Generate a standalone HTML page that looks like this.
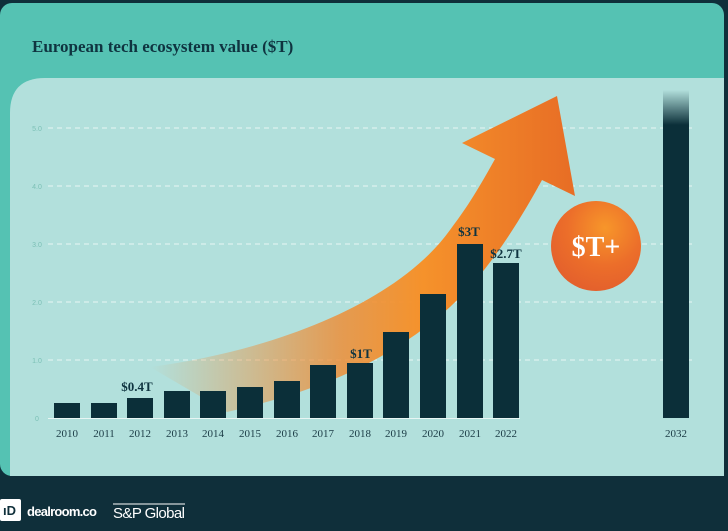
<!DOCTYPE html>
<html><head><meta charset="utf-8"><style>
body{margin:0;width:728px;height:531px;background:#0f2f3a;overflow:hidden;position:relative;font-family:"Liberation Serif",serif}
</style></head><body>
<svg width="728" height="531" style="position:absolute;left:0;top:0">
<defs>
<linearGradient id="ag" x1="150" y1="0" x2="570" y2="0" gradientUnits="userSpaceOnUse">
<stop offset="0" stop-color="#f08a30" stop-opacity="0"/>
<stop offset="0.45" stop-color="#f08a30" stop-opacity="0.8"/>
<stop offset="0.65" stop-color="#f5922b"/>
<stop offset="1" stop-color="#e86e25"/>
</linearGradient>
<radialGradient id="cg" cx="0.6" cy="0.3" r="0.7">
<stop offset="0" stop-color="#f7962a"/><stop offset="0.6" stop-color="#ec6e2a"/><stop offset="1" stop-color="#e4612c"/>
</radialGradient>
<linearGradient id="bg32" x1="0" y1="90" x2="0" y2="125" gradientUnits="userSpaceOnUse">
<stop offset="0" stop-color="#0b2f39" stop-opacity="0"/><stop offset="1" stop-color="#0b2f39"/>
</linearGradient>
</defs>
<rect x="0" y="3" width="724" height="473" rx="12" fill="#55c2b3"/>
<path d="M10 476 L10 113 Q10 78 45 78 L724 78 L724 476 Z" fill="#b2e0dc"/>
<text x="32" y="52" font-size="17" font-weight="bold" fill="#0f3440">European tech ecosystem value ($T)</text>
<g stroke="#e8f6f4" stroke-dasharray="5,4" stroke-width="1">
<line x1="48" y1="128" x2="695" y2="128"/><line x1="48" y1="186" x2="695" y2="186"/>
<line x1="48" y1="244" x2="695" y2="244"/><line x1="48" y1="302" x2="695" y2="302"/>
<line x1="48" y1="360" x2="695" y2="360"/>
</g>
<line x1="48" y1="418.5" x2="520" y2="418.5" stroke="#e8f6f4" stroke-width="1"/>
<g font-family="Liberation Sans,sans-serif" font-size="7" fill="#7cc0b6" text-anchor="middle">
<text x="37" y="131">5.0</text><text x="37" y="189">4.0</text><text x="37" y="247">3.0</text>
<text x="37" y="305">2.0</text><text x="37" y="363">1.0</text><text x="37" y="421">0</text>
</g>
<path d="M150 367 C280 350 400 300 450 230 C465 210 475 195 495 159 L462 143 L557 96 L575 196 L542 180 C520 220 490 270 450 307 C380 370 300 395 227 412 Z" fill="url(#ag)"/>
<g fill="#0b2f39">
<rect x="54" y="403" width="26" height="15"/><rect x="91" y="403" width="26" height="15"/>
<rect x="127" y="398" width="26" height="20"/><rect x="164" y="391" width="26" height="27"/>
<rect x="200" y="391" width="26" height="27"/><rect x="237" y="387" width="26" height="31"/>
<rect x="274" y="381" width="26" height="37"/><rect x="310" y="365" width="26" height="53"/>
<rect x="347" y="363" width="26" height="55"/><rect x="383" y="332" width="26" height="86"/>
<rect x="420" y="294" width="26" height="124"/><rect x="457" y="244" width="26" height="174"/>
<rect x="493" y="263" width="26" height="155"/>
</g>
<rect x="663" y="90" width="26" height="328" fill="url(#bg32)"/>
<circle cx="596" cy="246" r="45" fill="url(#cg)"/>
<text x="596" y="256" text-anchor="middle" font-size="28" font-weight="bold" fill="#fff">$T+</text>
<g font-size="13" font-weight="bold" fill="#0f3440" text-anchor="middle">
<text x="137" y="391">$0.4T</text><text x="361" y="358">$1T</text>
<text x="469" y="236">$3T</text><text x="506" y="258">$2.7T</text>
</g>
<g font-size="11" fill="#1a3a44" text-anchor="middle">
<text x="67" y="437">2010</text><text x="104" y="437">2011</text><text x="140" y="437">2012</text>
<text x="177" y="437">2013</text><text x="213" y="437">2014</text><text x="250" y="437">2015</text>
<text x="287" y="437">2016</text><text x="323" y="437">2017</text><text x="360" y="437">2018</text>
<text x="396" y="437">2019</text><text x="433" y="437">2020</text><text x="470" y="437">2021</text>
<text x="506" y="437">2022</text><text x="676" y="437">2032</text>
</g>
<rect x="0" y="499" width="21" height="22" rx="2" fill="#fff"/>
<text x="3" y="515" font-family="Liberation Sans,sans-serif" font-size="13" font-weight="bold" fill="#0f2f3a">ıD</text>
<text x="27" y="516" font-family="Liberation Sans,sans-serif" font-size="13" font-weight="bold" fill="#fff" textLength="70">dealroom.co</text>
<line x1="113" y1="504" x2="185" y2="504" stroke="#fff" stroke-width="1"/>
<text x="113" y="518" font-family="Liberation Sans,sans-serif" font-size="15" fill="#fff" textLength="72">S&amp;P Global</text>
</svg>
</body></html>
